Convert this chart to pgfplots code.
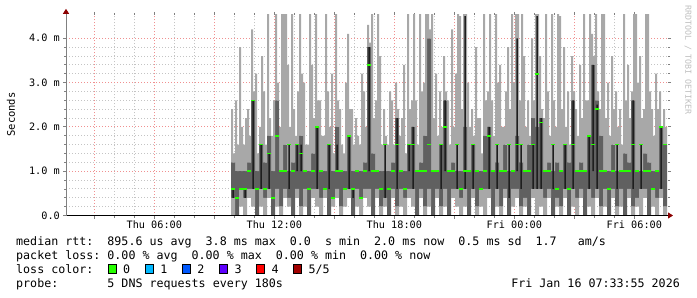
\documentclass[border=0pt]{standalone}
\usepackage{fontspec}
\setmainfont{DejaVu Sans Mono}
\usepackage{pgfplots}
\pgfplotsset{compat=1.18}
\usepackage{pgfplotstable}
\usetikzlibrary{arrows.meta}
\definecolor{smokeL}{HTML}{A8A8A8}
\definecolor{smokeM}{HTML}{606060}
\definecolor{smokeD}{HTML}{1E1E1E}
\definecolor{majgrid}{HTML}{F09090}
\definecolor{mingrid}{HTML}{C4C4C4}
\definecolor{lc0}{HTML}{26FF00}
\definecolor{lc1}{HTML}{00B8FF}
\definecolor{lc2}{HTML}{0059FF}
\definecolor{lc3}{HTML}{5E00FF}
\definecolor{lc4}{HTML}{FF0000}
\definecolor{lc5}{HTML}{A10000}
\definecolor{arrowred}{HTML}{8B0000}
\newcommand\legfont{\fontsize{11.66bp}{14bp}\selectfont}
\newcommand\tickfont{\fontsize{10.2bp}{12bp}\selectfont}

\pgfplotstableread{
x lo q1 dl dh q3 ha hb md
9.94 0.0 0.4 0.4 0.6 1.2 2.4 1.4 0.6
10.14 0.0 0.0 0.4 0.4 1.0 2.6 1.6 0.4
10.34 0.2 0.6 0.6 0.6 1.0 3.8 2.0 0.6
10.54 0.0 0.4 0.4 0.6 1.0 1.6 2.2 0.6
10.74 0.4 0.6 0.6 0.6 1.2 2.4 1.8 1.0
10.94 0.2 0.6 0.6 2.6 2.6 4.2 2.8 2.6
11.14 0.0 0.0 0.4 0.4 1.0 3.2 1.4 0.6
11.34 0.2 0.6 0.6 1.6 1.6 2.0 3.6 1.6
11.54 0.0 0.4 0.4 0.4 1.2 2.8 1.6 0.6
11.74 0.4 0.6 0.6 1.4 1.8 4.6 2.2 1.4
11.94 0.0 0.0 0.4 0.4 1.0 1.8 2.6 0.4
12.14 0.2 0.6 0.6 0.6 2.6 4.6 3.0 1.8
12.34 0.0 0.2 0.6 0.6 1.0 2.0 4.6 1.0
12.54 0.4 0.6 0.6 0.6 1.6 4.6 4.6 1.0
12.74 0.2 0.4 0.6 1.6 1.0 3.4 2.0 1.6
12.94 0.0 0.0 0.6 0.6 1.2 4.6 2.4 1.0
13.14 0.4 0.6 1.0 1.6 1.6 1.8 2.8 1.6
13.34 0.0 0.2 1.0 1.6 1.8 4.6 3.2 1.4
13.54 0.2 0.6 0.6 0.6 1.0 3.0 1.6 1.0
13.74 0.0 0.0 0.4 0.4 1.0 1.6 4.6 0.6
13.94 0.4 0.6 0.6 0.6 1.4 3.4 2.2 1.0
14.14 0.2 0.6 0.6 2.0 2.0 4.6 2.6 2.0
14.34 0.0 0.4 0.4 0.4 1.0 2.6 1.8 1.0
14.54 0.4 0.6 0.6 0.6 1.0 1.8 4.6 0.6
14.74 0.0 0.0 0.6 1.6 1.6 2.8 2.0 1.6
14.94 0.2 0.4 0.4 0.4 1.0 3.2 1.4 0.4
15.14 0.4 0.6 1.0 1.6 2.0 4.6 2.6 1.0
15.34 0.0 0.2 0.6 0.6 1.0 2.4 1.6 1.0
15.54 0.2 0.6 0.6 0.6 1.0 1.4 3.0 0.6
15.74 0.4 0.6 0.6 1.8 1.8 4.1 2.4 1.8
15.94 0.0 0.0 0.4 0.6 1.0 2.4 1.6 0.6
16.14 0.2 0.6 0.6 0.6 1.0 2.2 1.8 1.0
16.34 0.0 0.4 0.4 0.4 1.0 1.6 3.2 0.4
16.54 0.4 0.6 0.6 0.6 1.2 2.8 2.0 1.0
16.74 0.2 0.6 1.0 3.8 3.8 4.3 3.9 3.4
16.94 0.0 0.0 0.4 0.4 1.4 4.6 2.2 1.0
17.14 0.4 0.6 0.6 0.6 1.0 2.6 4.6 1.0
17.34 0.0 0.2 0.6 0.6 1.0 3.6 1.6 0.6
17.54 0.2 0.4 0.4 1.6 1.0 2.4 1.8 1.6
17.74 0.0 0.0 0.4 0.4 1.0 1.6 2.8 0.6
17.94 0.4 0.6 0.6 0.6 1.2 2.6 1.6 1.0
18.14 0.0 0.2 0.6 2.2 2.2 3.0 2.4 1.6
18.34 0.2 0.6 0.6 0.6 1.0 1.8 2.2 1.0
18.54 0.0 0.4 0.4 0.4 1.0 3.4 1.4 0.6
18.74 0.4 0.6 1.0 1.6 1.6 4.6 2.4 1.6
18.94 0.2 0.6 0.6 2.0 2.0 2.6 4.6 1.6
19.14 0.0 0.0 0.4 0.4 1.0 2.6 1.6 1.0
19.34 0.4 0.6 0.6 0.6 1.2 4.6 2.8 1.0
19.54 0.0 0.2 0.6 0.6 1.8 3.0 4.6 1.0
19.74 0.2 0.6 0.6 0.6 4.0 4.6 4.2 1.6
19.94 0.0 0.0 0.4 0.4 1.0 4.6 2.2 1.0
20.14 0.4 0.6 0.6 0.6 1.0 3.2 1.8 1.0
20.34 0.0 0.2 0.6 1.6 1.6 2.8 2.0 1.6
20.54 0.2 0.6 1.0 2.6 2.6 3.6 2.8 2.0
20.74 0.0 0.0 0.4 0.4 1.0 2.6 1.6 1.0
20.94 0.4 0.6 0.6 0.6 1.2 4.2 2.0 1.0
21.14 0.2 0.6 0.6 1.6 1.0 3.2 4.6 1.6
21.34 0.0 0.4 0.4 0.4 1.0 4.5 2.4 0.6
21.54 0.2 0.6 0.6 4.5 2.0 4.6 4.6 1.0
21.74 0.0 0.0 0.4 0.4 1.0 3.0 2.0 1.0
21.94 0.4 0.6 0.6 1.6 1.6 2.4 1.8 1.6
22.14 0.0 0.2 0.6 0.6 1.0 3.8 2.2 1.0
22.34 0.2 0.6 0.6 0.6 1.0 2.2 1.4 0.6
22.54 0.0 0.6 0.6 0.6 1.8 4.6 2.6 1.0
22.74 0.4 0.6 0.6 2.0 2.0 2.8 4.6 1.8
22.94 0.0 0.0 0.4 0.4 1.0 2.6 1.8 1.0
23.14 0.2 0.6 0.6 1.6 1.2 4.6 3.0 1.6
23.34 0.0 0.2 0.6 0.6 1.0 3.4 2.0 1.0
23.54 0.4 0.6 0.6 0.6 1.6 2.0 2.8 1.0
23.74 0.0 0.0 0.4 1.6 1.0 3.8 2.4 1.6
23.94 0.2 0.6 0.6 0.6 1.0 4.6 3.0 1.0
24.14 0.4 0.6 1.0 4.0 1.8 4.6 4.6 1.6
24.34 0.0 0.2 0.6 1.6 1.2 2.6 4.6 1.6
24.54 0.2 0.4 0.4 0.4 1.0 3.6 2.0 1.0
24.74 0.0 0.0 0.6 0.6 1.6 2.6 1.8 1.0
24.94 0.4 0.6 0.6 1.6 2.2 4.0 2.6 1.6
25.14 0.0 0.6 0.6 4.5 2.0 4.6 4.6 3.2
25.34 0.2 0.6 0.6 2.2 2.2 3.6 2.4 2.1
25.54 0.0 0.4 0.4 0.4 1.0 2.2 4.6 1.0
25.74 0.4 0.6 0.6 0.6 1.2 2.8 1.8 1.0
25.94 0.0 0.0 0.6 1.6 1.0 4.6 2.6 1.6
26.14 0.2 0.4 0.4 0.4 1.2 2.0 4.6 0.6
26.34 0.0 0.2 0.6 0.6 1.0 4.5 2.4 1.0
26.54 0.4 0.6 0.6 1.6 1.6 3.8 2.0 1.6
26.74 0.0 0.0 0.4 0.4 1.2 2.8 1.6 0.6
26.94 0.2 0.6 0.6 2.6 2.6 3.6 2.8 1.6
27.14 0.0 0.4 0.4 0.4 1.0 2.4 1.8 1.0
27.34 0.4 0.6 0.6 0.6 1.2 3.4 2.2 1.0
27.54 0.0 0.0 0.6 0.6 1.0 4.6 2.6 1.0
27.74 0.2 0.6 0.6 1.8 1.8 2.6 4.6 1.8
27.94 0.0 0.4 1.0 3.4 3.4 4.1 3.6 1.6
28.14 0.4 0.6 0.6 2.5 2.6 4.6 2.8 2.4
28.34 0.0 0.2 0.6 0.6 1.8 2.4 4.6 1.0
28.54 0.2 0.6 0.6 0.6 1.0 4.6 2.2 1.0
28.74 0.0 0.0 0.4 0.4 1.0 3.0 1.8 0.6
28.94 0.4 0.6 0.6 0.6 1.6 3.6 2.4 1.0
29.14 0.0 0.2 0.6 1.6 1.0 2.8 2.0 1.6
29.34 0.2 0.6 0.6 0.6 1.0 2.4 1.6 1.0
29.54 0.0 0.0 0.4 0.4 1.4 4.6 2.6 1.0
29.74 0.4 0.6 0.6 0.6 1.2 3.4 2.2 1.0
29.94 0.0 0.2 0.6 2.6 2.6 2.8 4.6 1.6
30.14 0.2 0.4 0.4 0.4 1.0 4.6 3.0 1.0
30.34 0.0 0.6 0.6 1.6 1.0 3.6 2.2 1.6
30.54 0.4 0.6 0.6 0.6 1.4 2.4 4.6 1.0
30.74 0.0 0.0 0.6 0.6 1.2 4.6 2.8 1.0
30.94 0.2 0.6 0.6 0.6 1.0 2.4 1.8 0.6
31.14 0.0 0.4 0.4 0.4 1.0 3.2 2.4 1.0
31.34 0.4 0.6 0.6 2.0 2.0 2.8 2.0 2.0
31.54 0.0 0.2 0.6 0.6 1.6 2.4 2.0 1.6
}\smoke

\pgfplotsset{rrdaxis/.style={
  scale only axis, width=602bp, height=200.7bp,
  xmin=1.585, xmax=31.685, ymin=0, ymax=4.53,
  at={(66bp,81.5bp)}, anchor=south west,
},
overlayaxis/.style={rrdaxis, hide axis, ybar stacked}}

\begin{document}
\begin{tikzpicture}[x=1bp,y=1bp]
\path[use as bounding box] (0,0) rectangle (697,297);

% axis 1: grid, ticks, lower smoke, inner smoke, left half of upper smoke
\begin{axis}[rrdaxis,
  ybar stacked,
  axis line style={draw=none},
  xtick={3,6,...,30},
  xticklabels={,Thu 06:00,,Thu 12:00,,Thu 18:00,,Fri 00:00,,Fri 06:00},
  ytick={0,1,2,3,4},
  yticklabels={0.0,1.0 m,2.0 m,3.0 m,4.0 m},
  minor x tick num=2, minor y tick num=4,
  grid=both,
  major grid style={majgrid, line width=0.9bp, dash pattern=on 1bp off 2bp},
  minor grid style={mingrid, line width=0.9bp, dash pattern=on 1bp off 2bp},
  tick align=outside,
  major tick length=3bp, minor tick length=2bp,
  tick style={gray, line width=0.8bp},
  tick label style={font=\tickfont, inner sep=0pt},
  xticklabel style={anchor=north, yshift=-2bp},
  yticklabel style={anchor=east, xshift=-3bp},
]
\addplot[fill=none, draw=none, bar width=4.2bp, bar shift=0bp] table[x=x, y=lo]{\smoke};
\addplot[fill=smokeL, draw=none, bar width=4.2bp, bar shift=0bp] table[x=x, y expr=\thisrow{q1}-\thisrow{lo}]{\smoke};
\addplot[fill=smokeM, draw=none, bar width=4.2bp, bar shift=0bp] table[x=x, y expr=\thisrow{q3}-\thisrow{q1}]{\smoke};
\addplot[fill=smokeL, draw=none, bar width=2.2bp, bar shift=-1bp] table[x=x, y expr=\thisrow{ha}-\thisrow{q3}]{\smoke};
\end{axis}

% axis 2: right half of upper smoke
\begin{axis}[overlayaxis]
\addplot[fill=none, draw=none, bar width=2.2bp, bar shift=1bp] table[x=x, y=q3]{\smoke};
\addplot[fill=smokeL, draw=none, bar width=2.2bp, bar shift=1bp] table[x=x, y expr=\thisrow{hb}-\thisrow{q3}]{\smoke};
\end{axis}

% axis 3: dark core columns
\begin{axis}[overlayaxis]
\addplot[fill=none, draw=none, bar width=1.6bp, bar shift=0bp] table[x=x, y=dl]{\smoke};
\addplot[fill=smokeD, draw=none, bar width=1.6bp, bar shift=0bp] table[x=x, y expr=\thisrow{dh}-\thisrow{dl}]{\smoke};
\end{axis}

% axis 4: median and axis lines
\begin{axis}[rrdaxis,
  axis x line=bottom, axis y line=left,
  xtick=\empty, ytick=\empty,
  x axis line style={black, line width=1bp, shorten >=-5bp, -{Triangle[length=5bp,width=6bp,color=arrowred]}},
  y axis line style={gray, line width=1bp, shorten >=-6bp, -{Triangle[length=5bp,width=6bp,color=arrowred]}},
]
\addplot[only marks, mark=-, mark size=2bp, mark options={lc0, line width=1.6bp}] table[x=x, y=md]{\smoke};
\end{axis}

\node[rotate=90, font=\fontsize{10.5bp}{12bp}\selectfont, inner sep=0pt] at (11,182.5) {Seconds};
\node[rotate=-90, font=\fontsize{8.3bp}{10bp}\selectfont, inner sep=0pt, text=black!25] at (688,237) {RRDTOOL~/~TOBI~OETIKER};

\begin{scope}[every node/.style={inner sep=0pt, font=\legfont, anchor=base west}]
\node at (16,51.7) {median~rtt:~~895.6~us~avg~~3.8~ms~max~~0.0~~s~min~~2.0~ms~now~~0.5~ms~sd~~1.7~~~am/s};
\node at (16,37.7) {packet~loss:~0.00~\%~avg~~0.00~\%~max~~0.00~\%~min~~0.00~\%~now};
\node at (16,23.7) {loss~color:};
\node at (16,9.7) {probe:~~~~~~~5~DNS~requests~every~180s};
\node[anchor=base east] at (680,9.7) {Fri~Jan~16~07:33:55~2026};
\foreach \c/\k/\lab in {lc0/0/0, lc1/1/1, lc2/2/2, lc3/3/3, lc4/4/4, lc5/5/{5/5}} {
  \filldraw[fill=\c, draw=black, line width=0.8bp] (108+37.1*\k,23.3) rectangle ++(8,9);
  \node at (123+37.1*\k,23.7) {\lab};
}
\end{scope}
\end{tikzpicture}
\end{document}
